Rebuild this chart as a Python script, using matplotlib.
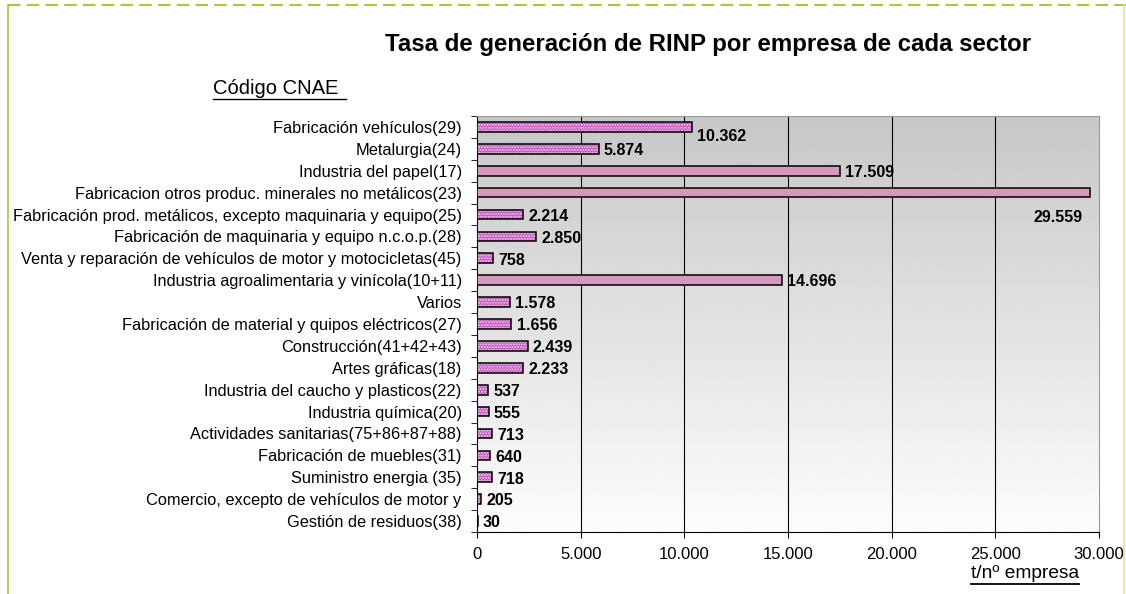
import numpy as np
import matplotlib.pyplot as plt
from matplotlib.lines import Line2D

plt.rcParams['font.family'] = ['Liberation Sans', 'DejaVu Sans']

sectores = [
    "Fabricación vehículos(29)",
    "Metalurgia(24)",
    "Industria del papel(17)",
    "Fabricacion otros produc. minerales no metálicos(23)",
    "Fabricación prod. metálicos, excepto maquinaria y equipo(25)",
    "Fabricación de maquinaria y equipo n.c.o.p.(28)",
    "Venta y reparación de vehículos de motor y motocicletas(45)",
    "Industria agroalimentaria y vinícola(10+11)",
    "Varios",
    "Fabricación de material y quipos eléctricos(27)",
    "Construcción(41+42+43)",
    "Artes gráficas(18)",
    "Industria del caucho y plasticos(22)",
    "Industria química(20)",
    "Actividades sanitarias(75+86+87+88)",
    "Fabricación de muebles(31)",
    "Suministro energia (35)",
    "Comercio, excepto de vehículos de motor y",
    "Gestión de residuos(38)",
]
tasa = [10362, 5874, 17509, 29559, 2214, 2850, 758, 14696, 1578, 1656,
        2439, 2233, 537, 555, 713, 640, 718, 205, 30]
ticks_x = [0, 5000, 10000, 15000, 20000, 25000, 30000]


def miles(v):
    return f"{v:,}".replace(",", ".")


W, H = 1126, 594
fig = plt.figure(figsize=(W / 100, H / 100), dpi=100)
ax = fig.add_axes([477 / W, 1 - 532 / H, (1099 - 477) / W, (532 - 116) / H])

n = len(sectores)
y = np.arange(n)

# fondo degradado gris -> blanco
grad = np.linspace(0.78, 0.99, 256).reshape(-1, 1)
ax.imshow(grad, cmap='gray', vmin=0, vmax=1, aspect='auto',
          extent=[0, 30000, n - 0.5, -0.5], zorder=0)

for xv in ticks_x[1:-1]:
    ax.axvline(xv, color='black', lw=0.8, zorder=1)

# barras: trama punteada en las cortas, rosa liso en las largas
for i, v in enumerate(tasa):
    if v > 12000:
        ax.barh(i, v, height=0.44, color='#d698bc', linewidth=0, zorder=3)
    else:
        ax.barh(i, v, height=0.44, color='#c05cbc', hatch='......',
                edgecolor='#f6cdf2', linewidth=0, zorder=3)
ax.barh(y, tasa, height=0.44, fill=False, edgecolor='black',
        linewidth=1.1, zorder=4)

for i, v in enumerate(tasa):
    if v == 29559:
        ax.text(29200, i + 1.15, miles(v), ha='right', va='center',
                fontsize=11.5, fontweight='bold', zorder=5)
    elif v == 10362:
        ax.text(v + 250, i + 0.45, miles(v), ha='left', va='center',
                fontsize=11.5, fontweight='bold', zorder=5)
    else:
        ax.text(v + 250, i + 0.08, miles(v), ha='left', va='center',
                fontsize=11.5, fontweight='bold', zorder=5)

ax.set_xlim(0, 30000)
ax.set_ylim(n - 0.5, -0.5)
ax.set_xticks(ticks_x)
ax.set_xticklabels([miles(t) for t in ticks_x], fontsize=12)
ax.set_yticks(y)
ax.set_yticklabels(sectores, fontsize=11.8)
ax.tick_params(axis='y', length=0, pad=11)
ax.set_yticks(np.arange(-0.5, n, 1), minor=True)
ax.tick_params(axis='y', which='minor', length=4, direction='out')
ax.tick_params(axis='x', length=4, direction='out', pad=7)
for s in ['top', 'right']:
    ax.spines[s].set_color('#999999')
ax.spines['left'].set_color('black')
ax.spines['bottom'].set_color('black')

fig.text(708 / W, 1 - 45 / H, "Tasa de generación de RINP por empresa de cada sector",
         ha='center', va='center', fontsize=17.3, fontweight='bold')
fig.text(213 / W, 1 - 89 / H, "Código CNAE", ha='left', va='center', fontsize=14.5)
fig.add_artist(Line2D([213 / W, 346 / W], [1 - 99 / H] * 2, color='black', lw=1))
fig.text(971 / W, 1 - 573 / H, "t/nº empresa", ha='left', va='center', fontsize=13.8)
fig.add_artist(Line2D([971 / W, 1079 / W], [1 - 584 / H] * 2, color='black', lw=1.3))

# marco verde
fig.add_artist(Line2D([8 / W, 1], [1 - 5 / H] * 2, color='#a8cc30', lw=1.5, ls=(0, (6, 3))))
fig.add_artist(Line2D([8 / W] * 2, [0, 1 - 5 / H], color='#a8cc30', lw=1.2))
fig.add_artist(Line2D([1124 / W] * 2, [0, 1 - 5 / H], color='#d8e8a0', lw=1.2))

fig.savefig("out.png", dpi=100)
